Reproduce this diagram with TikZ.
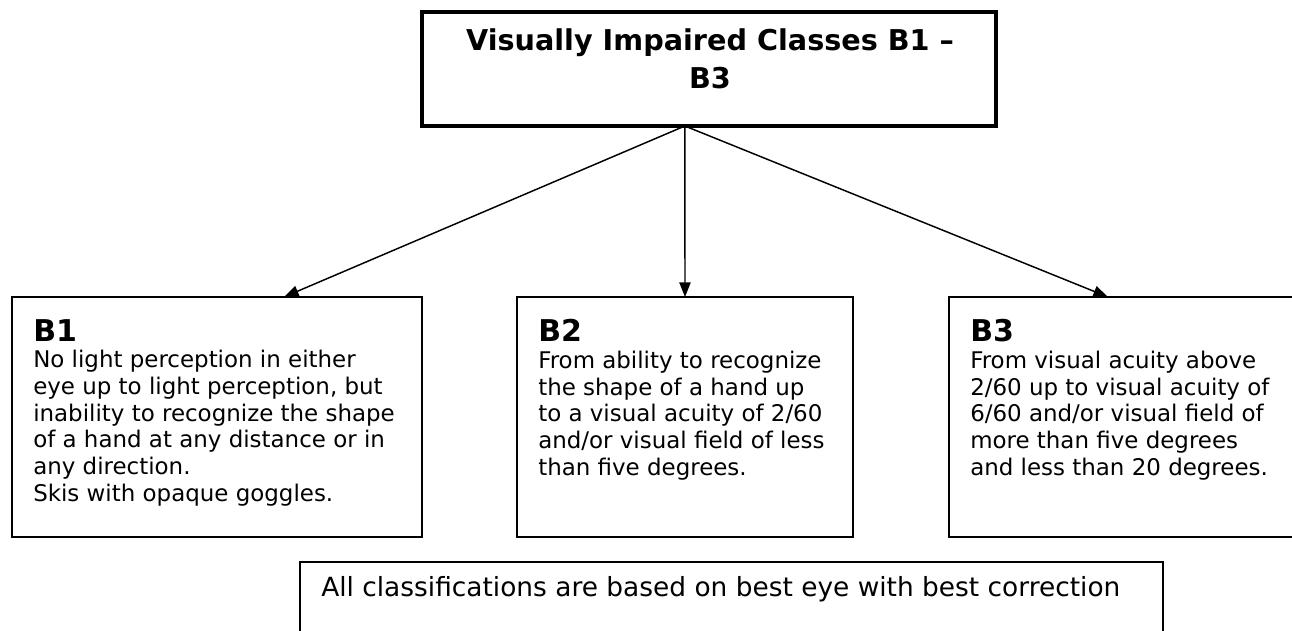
\documentclass[tikz,border=0pt]{standalone}
\usepackage{fontspec}
\setmainfont{DejaVu Sans}
\usepackage{tikz}
\usetikzlibrary{arrows.meta,calc,fit}

\begin{document}
\begin{tikzpicture}[x=0.75pt,y=-0.75pt,>={Triangle[length=11pt,width=8.5pt]},
	box/.style={draw,line width=1.5pt,inner sep=0pt,outer sep=0pt},
	title box/.style={draw,line width=3.4pt,inner sep=0pt,outer sep=0pt},
	title text/.style={anchor=base,inner sep=0pt,align=center,font=\bfseries\fontsize{21.5}{28.5}\selectfont},
	head/.style={anchor=base west,inner sep=0pt,font=\bfseries\fontsize{22.5}{27}\selectfont},
	body/.style={anchor=base west,inner sep=0pt,align=left,font=\fontsize{17.2}{20}\selectfont},
	link/.style={->,line width=1.1pt}]

	\useasboundingbox (0,0) rectangle (1292,631);

	\node[title box, fit={(422,12) (996,126)}] (title) {};
	% base of a multi-line node is its last line
	\node[title text] (titletxt) at (710,89) {Visually Impaired Classes B1 --\\B3};

	\node[box, fit={(12,297) (422,537)}] (b1) {};
	\node[box, fit={(517,297) (853,537)}] (b2) {};
	\node[box, fit={(949,297) (1340,537)}] (b3) {};
	\node[box, fit={(300,562) (1163,690)}] (note) {};

	\node[head] (b1head) at (33,341) {B1};
	\node[body] (b1txt) at (33,501) {No light perception in either\\eye up to light perception, but\\inability to recognize the shape\\of a hand at any distance or in\\any direction.\\Skis with opaque goggles.};
	\node[head] (b2head) at (538,341) {B2};
	\node[body] (b2txt) at (538,475) {From ability to recognize\\the shape of a hand up\\to a visual acuity of 2/60\\and/or visual field of less\\than five degrees.};
	\node[head] (b3head) at (970,341) {B3};
	\node[body] (b3txt) at (970,475) {From visual acuity above\\2/60 up to visual acuity of\\6/60 and/or visual field of\\more than five degrees\\and less than 20 degrees.};

	\node[anchor=base west,inner sep=0pt,font=\fontsize{19.8}{23}\selectfont] (notetxt) at (321,596) {All classifications are based on best eye with best correction};

	% fork under the title and the three arrow ends
	\coordinate (fork) at ($(title.south west)!0.458!(title.south east)$);
	\coordinate (b1in) at ($(b1.north west)+(272,0)$);
	\coordinate (b3in) at ($(b3.north west)+(159,0)$);

	\path[link]
	(fork) edge (b1in)
	(fork) edge (b2.north)
	(fork) edge (b3in);

\end{tikzpicture}
\end{document}
